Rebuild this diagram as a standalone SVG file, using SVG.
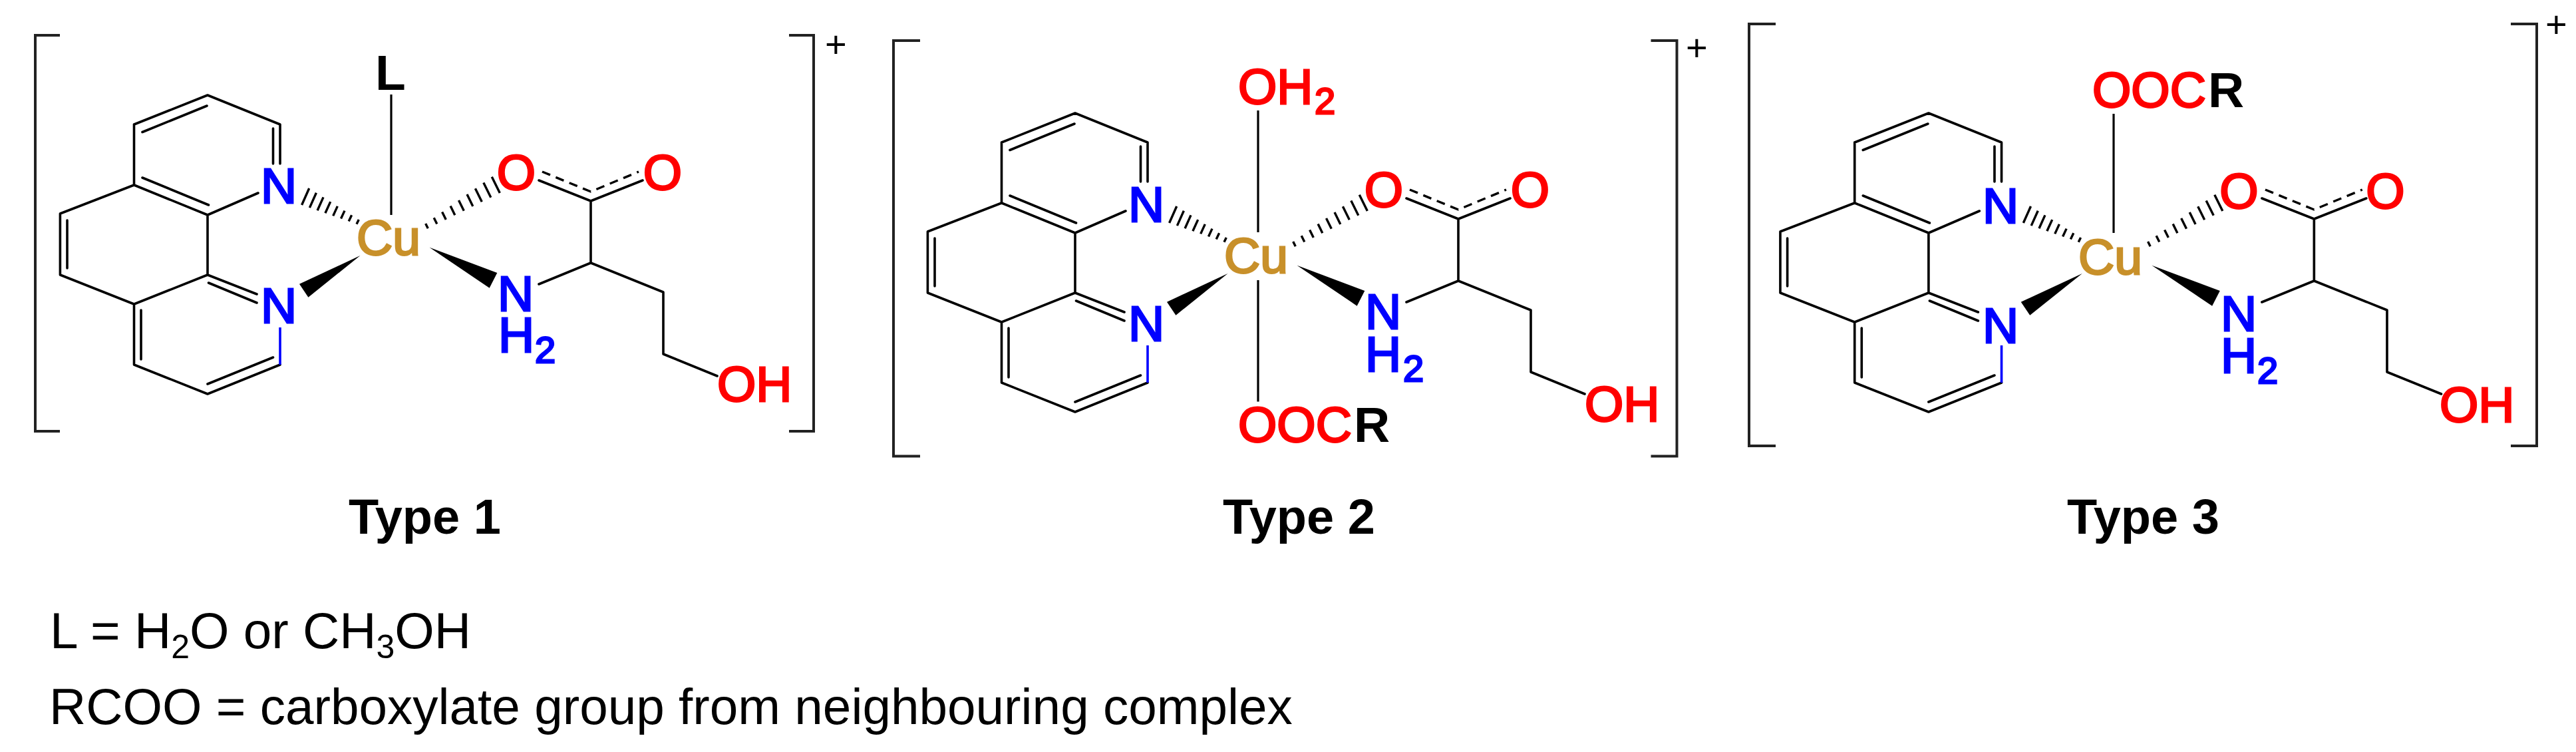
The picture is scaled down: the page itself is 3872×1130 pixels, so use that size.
<svg xmlns="http://www.w3.org/2000/svg" xmlns:xlink="http://www.w3.org/1999/xlink" width="3872" height="1130" viewBox="0 0 3872 1130">
<style>
text{font-family:"Liberation Sans",Arial,sans-serif;font-size:75px}
.red{fill:#f00;stroke:#f00;stroke-width:2.8}
.blue{fill:#00f;stroke:#00f;stroke-width:2.8}
.cu{fill:#c8902a;stroke:#c8902a;stroke-width:2.8}
.blk{fill:#000;font-weight:bold}
.sub{font-size:56px}
.title{fill:#000;font-weight:bold;font-size:74px}
.note{fill:#000;font-size:76.500px}
.plus{fill:#000;font-size:56px}
.bond{fill:none;stroke:#000;stroke-width:3.6;stroke-linecap:round;stroke-linejoin:round}
.axial{fill:none;stroke:#000;stroke-width:3.2}
.hash{fill:none;stroke:#000;stroke-width:3.4}
.dash{fill:none;stroke:#000;stroke-width:3.4;stroke-dasharray:13 9}
.bracket{fill:none;stroke:#222;stroke-width:4}
</style>
<defs>
<g id="core-bonds">
<path class="bond" d="M201.500,187L312,143L421,187L421,246M410.500,193L410.500,246M214,198.500L311,159M201.500,187L201.500,278L312,323L388,290M214,267L313.500,308M312,323L312,413L386,442M313.500,425L386,455M201.500,278L90.400,321L90.400,413L201.500,457L312,413M101,331L101,403M201.500,457L201.500,548L312,592L421,548M212,466L212,540M312,577L410.500,537"/>
<path d="M421,548L421,492" fill="none" stroke="#00f" stroke-width="3.6"/>
<path class="bond" d="M810,271L888,302L966,271M888,302L888,395M810,427L888,395L997,439L997,532L1078,565"/>
<path class="dash" d="M815,258L888,288L960,258"/>
<path class="hash" d="M464.700,283L453.600,308M475.400,289.700L465.400,312.100M486,296.400L477.100,316.200M496.700,303.100L488.900,320.300M507.300,309.900L500.700,324.400M518,316.600L512.500,328.500M528.600,323.300L524.200,332.600M539.300,330L536,336.700"/>
<path class="hash" d="M639.700,336L643.300,343.300M652.200,327.200L656.800,336.600M664.600,318.400L670.300,330M677.100,309.600L683.800,323.300M689.500,300.900L697.300,316.700M702,292.100L710.800,310M714.400,283.300L724.300,303.300M726.800,274.500L737.800,296.700M739.300,265.700L751.300,290"/>
<polygon points="541.500,384 450,426.700 463.400,446.700" fill="#000"/>
<polygon points="645.500,371.700 747.300,410 735.700,432.700" fill="#000"/>
</g>
</defs>
<g id="connectors">
<use href="#core-bonds" xlink:href="#core-bonds"/>
<use href="#core-bonds" xlink:href="#core-bonds" transform="translate(1304,27)"/>
<use href="#core-bonds" xlink:href="#core-bonds" transform="translate(2585,27) scale(1.006,1)"/>
<path class="axial" d="M588,142V323"/>
<path class="axial" d="M1891,166V349M1891,421V603.500"/>
<path class="axial" d="M3177,171V350"/>
</g>
<g id="type1">
<path class="bracket" d="M90,53H53V648H90M1186,53H1223V648H1186"/>
<text class="plus" x="1240" y="86">+</text>
<text class="blk" x="564" y="135">L</text>
<text class="cu" x="536" y="383">Cu</text>
<text class="blue" x="392" y="305">N</text>
<text class="blue" x="392" y="485">N</text>
<text class="red" x="776" y="285" text-anchor="middle">O</text>
<text class="red" x="996" y="285" text-anchor="middle">O</text>
<text class="blue" x="748" y="467">N</text>
<text class="blue" x="749" y="529">H</text>
<text class="blue sub" x="804" y="545">2</text>
<text class="red" x="1078" y="603">OH</text>
<text class="title" x="524" y="802">Type 1</text>
</g>
<g id="type2">
<path class="bracket" d="M1383,61H1343V685.500H1383M2481.500,61H2520.500V685.500H2481.500"/>
<text class="plus" x="2534" y="91">+</text>
<text class="red" x="1861" y="156">OH</text>
<text class="red sub" x="1976" y="171">2</text>
<text class="red" x="1861" y="664">OOC</text>
<text class="blk" x="2035" y="664">R</text>
<text class="cu" x="1840" y="410">Cu</text>
<text class="blue" x="1696" y="333">N</text>
<text class="blue" x="1696" y="512">N</text>
<text class="red" x="2080" y="311" text-anchor="middle">O</text>
<text class="red" x="2300" y="311" text-anchor="middle">O</text>
<text class="blue" x="2052" y="494">N</text>
<text class="blue" x="2052" y="557.500">H</text>
<text class="blue sub" x="2109" y="573">2</text>
<text class="red" x="2382" y="632.500">OH</text>
<text class="title" x="1838" y="802">Type 2</text>
</g>
<g id="type3">
<path class="bracket" d="M2669,36H2629V670H2669M3774,36H3813V670H3774"/>
<text class="plus" x="3826" y="56">+</text>
<text class="red" x="3145" y="161">OOC</text>
<text class="blk" x="3319" y="161">R</text>
<text class="cu" x="3124" y="412">Cu</text>
<text class="blue" x="2980" y="334.500">N</text>
<text class="blue" x="2980" y="514.500">N</text>
<text class="red" x="3365.500" y="312.500" text-anchor="middle">O</text>
<text class="red" x="3585.500" y="312.500" text-anchor="middle">O</text>
<text class="blue" x="3338" y="496.500">N</text>
<text class="blue" x="3338" y="560">H</text>
<text class="blue sub" x="3393" y="576">2</text>
<text class="red" x="3667" y="633.500">OH</text>
<text class="title" x="3107" y="802">Type 3</text>
</g>
<g id="legend">
<text class="note" x="75" y="974">L = H<tspan font-size="50" dy="15">2</tspan><tspan dy="-15">O or CH</tspan><tspan font-size="50" dy="15">3</tspan><tspan dy="-15">OH</tspan></text>
<text class="note" x="74" y="1087.500">RCOO = carboxylate group from neighbouring complex</text>
</g>
</svg>
